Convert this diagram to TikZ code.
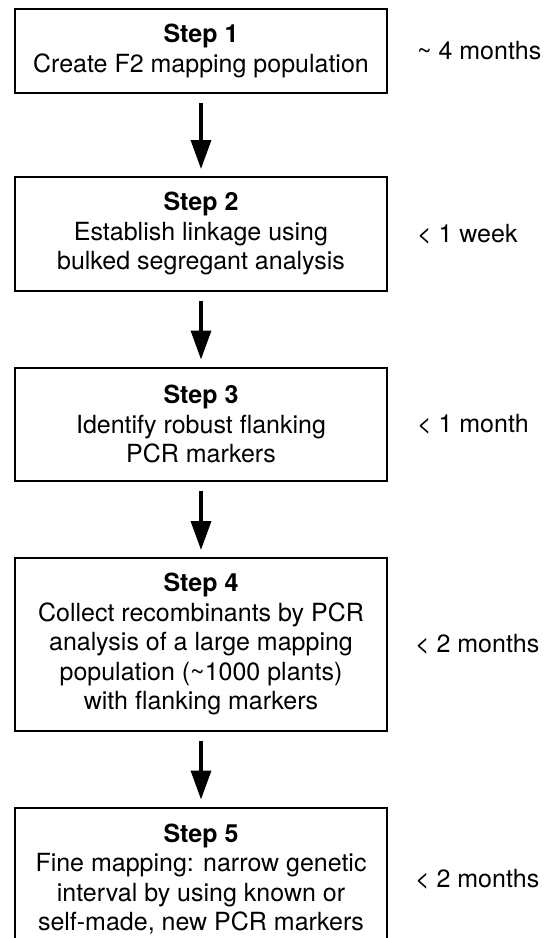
\documentclass[tikz,border=0pt]{standalone}
\usepackage{fontspec}
\setmainfont{TeX Gyre Heros}
\usetikzlibrary{arrows.meta,positioning}

\begin{document}
\begin{tikzpicture}[>={Triangle[width=20pt,length=29pt]}, line width=2pt, node distance=75pt,
    stepbox/.style={draw, rectangle, minimum width=372pt, inner sep=0pt, align=center,
                    font=\fontsize{25}{29.5}\selectfont},
    timing/.style={inner sep=0pt, font=\fontsize{25}{29.5}\selectfont}]
    \useasboundingbox (0,0) rectangle (549pt,-938pt);

    % Steps {s1, s2, s3, s4, s5}
    \node [stepbox, minimum height=84pt]    (s1) at (201pt,-51pt)  {\textbf{Step 1}\\Create F2 mapping population};
    \node [stepbox, minimum height=113.5pt] (s2) [below=82pt of s1] {\textbf{Step 2}\\Establish linkage using\\bulked segregant analysis};
    \node [stepbox, minimum height=113.5pt] (s3) [below=of s2]      {\textbf{Step 3}\\Identify robust flanking\\PCR markers};
    \node [stepbox, minimum height=172.5pt] (s4) [below=of s3]      {\textbf{Step 4}\\Collect recombinants by PCR\\analysis of a large mapping\\population (\textasciitilde1000 plants)\\with flanking markers};
    \node [stepbox, minimum height=143pt]   (s5) [below=of s4]      {\textbf{Step 5}\\Fine mapping: narrow genetic\\interval by using known or\\self-made, new PCR markers};

    % Times
    \node [timing] (t1) [right=28pt of s1] {\textasciitilde{} 4 months};
    \node [timing] (t2) [right=28pt of s2] {< 1 week};
    \node [timing] (t3) [right=28pt of s3] {< 1 month};
    \node [timing] (t4) [right=26pt of s4] {< 2 months};
    \node [timing] (t5) [right=26pt of s5] {< 2 months};

    % Paths
    \path [->, line width=3.5pt, shorten <=9pt, shorten >=7pt] (s1) edge (s2);
    \path [->, line width=3.5pt, shorten <=9pt, shorten >=7pt] (s2) edge (s3);
    \path [->, line width=3.5pt, shorten <=9pt, shorten >=7pt] (s3) edge (s4);
    \path [->, line width=3.5pt, shorten <=9pt, shorten >=7pt] (s4) edge (s5);
\end{tikzpicture}
\end{document}
